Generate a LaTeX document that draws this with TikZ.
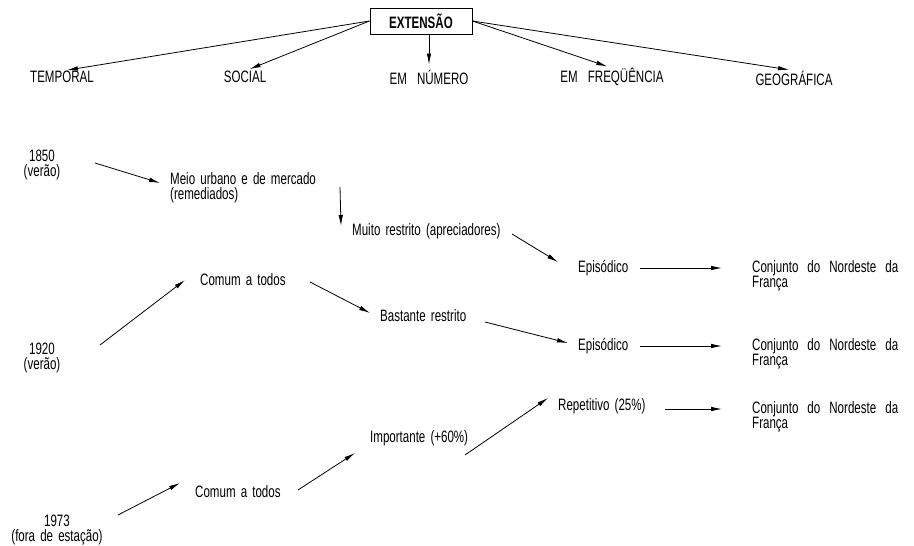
\documentclass[tikz,border=0pt]{standalone}
\usepackage{fontspec}
\setmainfont[FakeStretch=0.7,WordSpace=1.6]{Liberation Sans}
\usetikzlibrary{arrows.meta,calc}
\begin{document}
\begin{tikzpicture}[x=1pt,y=-1pt,
  lbl/.style={inner sep=0pt,font=\fontsize{16.5}{15.5}\selectfont},
  two/.style={lbl,align=left},
  conj/.style={lbl,text width=146pt,align=justify},
  arr/.style={line width=0.8pt,-{Latex[length=11pt,width=4.5pt]}},
]
\useasboundingbox[fill=white] (0,0) rectangle (914,546);
% top
\node[draw,line width=1pt,inner sep=0pt,minimum width=102pt,minimum height=26pt,
      font=\bfseries\fontsize{16.5}{16}\selectfont] (ext) at (421,21) {EXTENSÃO};
\node[lbl] (temporal) at (62,77) {TEMPORAL};
\node[lbl] (social) at (245,77) {SOCIAL};
\node[lbl] (numero) at (429,77) {EM\hspace{5pt} NÚMERO};
\node[lbl] (freq) at (612,77) {EM\hspace{5pt} FREQÜÊNCIA};
\node[lbl] (geo) at (794,78) {GEOGRÁFICA};
\draw[arr,shorten >=5pt] (ext.west) -- (temporal.north);
\draw[arr,shorten >=5pt] (ext.west) -- (social.north);
\draw[arr,shorten >=5pt] (ext.south -| numero) -- (numero.north);
\draw[arr,shorten >=5pt] (ext.east) -- (freq.north);
\draw[arr,shorten >=5pt] (ext.east) -- (geo.north);
% rows
\node[lbl,align=center] (y1850) at (42,165) {1850\\(verão)};
\node[two,anchor=north west] (meio) at (170,172) {Meio urbano e de mercado\\(remediados)};
\node[lbl,anchor=west] (muito) at (352,231) {Muito restrito (apreciadores)};
\node[lbl,anchor=west] (epi1) at (578,268) {Episódico};
\node[conj,anchor=north west] (conj1) at (752,260) {Conjunto do Nordeste da\linebreak França};
\node[lbl,anchor=west] (comum1) at (200,280) {Comum a todos};
\node[lbl,align=center] (y1920) at (42,358) {1920\\(verão)};
\node[lbl,anchor=west] (bast) at (380,316) {Bastante restrito};
\node[lbl,anchor=west] (epi2) at (578,346) {Episódico};
\node[conj,anchor=north west] (conj2) at (752,338) {Conjunto do Nordeste da\linebreak França};
\node[lbl,anchor=west] (rep) at (558,406) {Repetitivo (25\%)};
\node[conj,anchor=north west] (conj3) at (752,401) {Conjunto do Nordeste da\linebreak França};
\node[lbl,anchor=west] (imp) at (370,438) {Importante (+60\%)};
\node[lbl,anchor=west] (comum2) at (195,492) {Comum a todos};
\node[lbl,align=center] (y1973) at (57,530) {1973\\(fora de estação)};
% connectors
\draw[arr] ($(y1850)+(53,-2)$) -- ($(meio.north west)+(-10,11)$);
\draw[arr] ($(meio.north west)+(170,15)$) -- ($(muito.west)+(-11,-5)$);
\draw[arr] ($(muito.west)+(160,3)$) -- ($(epi1.west)+(-20,-6)$);
\draw[arr] ($(epi1.west)+(62,0)$) -- ($(conj1.north west)+(-30,8)$);
\draw[arr] ($(y1920)+(58,-13)$) -- ($(comum1.west)+(-15,0)$);
\draw[arr] ($(comum1.west)+(110,2)$) -- ($(bast.west)+(-10,-3)$);
\draw[arr] ($(bast.west)+(105,6)$) -- ($(epi2.west)+(-10,-3)$);
\draw[arr] ($(epi2.west)+(62,0)$) -- ($(conj2.north west)+(-30,8)$);
\draw[arr] ($(rep.west)+(107,3)$) -- ($(conj3.north west)+(-30,8)$);
\draw[arr] ($(imp.west)+(95,17)$) -- ($(rep.west)+(-10,-8)$);
\draw[arr] ($(comum2.west)+(103,-2)$) -- ($(imp.west)+(-15,15)$);
\draw[arr] ($(y1973)+(61,-15)$) -- ($(comum2.west)+(-15,-9)$);
\end{tikzpicture}
\end{document}
